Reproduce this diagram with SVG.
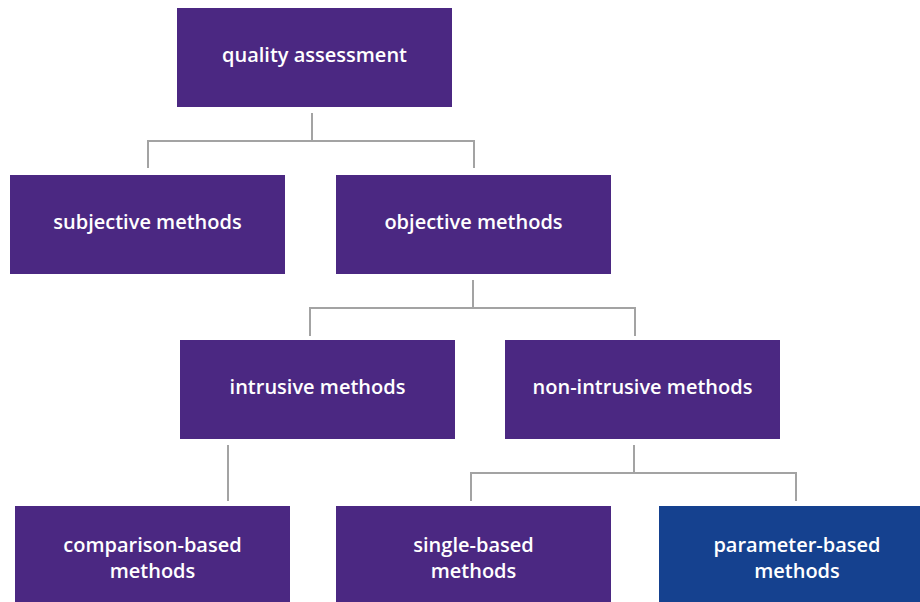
<svg xmlns="http://www.w3.org/2000/svg" width="920" height="602" viewBox="0 0 920 602">
<style>
.box{fill:#4B2882}
.blue{fill:#15418F}
.lbl{font-family:"Open Sans","Noto Sans","DejaVu Sans",sans-serif;font-weight:600;font-size:20px;fill:#FFFFFF;text-anchor:middle}
.con{fill:none;stroke:#A3A3A3;stroke-width:2}
</style>
<rect width="920" height="602" fill="#FFFFFF"/>
<g id="connectors">
<path class="con" d="M312,113 V141 M148,141 H474 M148,140 V168 M474,140 V168"/>
<path class="con" d="M473,280 V308 M310,308 H635 M310,307 V336 M635,307 V336"/>
<path class="con" d="M228,445 V501"/>
<path class="con" d="M634,445 V473 M471,473 H796 M471,472 V501 M796,472 V501"/>
</g>
<g id="quality-assessment"><rect class="box" x="177" y="8" width="275" height="99"/><text class="lbl" x="314.5" y="62">quality assessment</text></g>
<g id="subjective-methods"><rect class="box" x="10" y="175" width="275" height="99"/><text class="lbl" x="147.5" y="229">subjective methods</text></g>
<g id="objective-methods"><rect class="box" x="336" y="175" width="275" height="99"/><text class="lbl" x="473.5" y="229">objective methods</text></g>
<g id="intrusive-methods"><rect class="box" x="180" y="340" width="275" height="99"/><text class="lbl" x="317.5" y="394">intrusive methods</text></g>
<g id="non-intrusive-methods"><rect class="box" x="505" y="340" width="275" height="99"/><text class="lbl" x="642.5" y="394">non-intrusive methods</text></g>
<g id="comparison-based-methods"><rect class="box" x="15" y="506" width="275" height="96"/><text class="lbl" x="152.5" y="552">comparison-based</text><text class="lbl" x="152.5" y="578">methods</text></g>
<g id="single-based-methods"><rect class="box" x="336" y="506" width="275" height="96"/><text class="lbl" x="473.5" y="552">single-based</text><text class="lbl" x="473.5" y="578">methods</text></g>
<g id="parameter-based-methods"><rect class="blue" x="659" y="506" width="261" height="96"/><text class="lbl" x="797" y="552">parameter-based</text><text class="lbl" x="797" y="578">methods</text></g>
</svg>
